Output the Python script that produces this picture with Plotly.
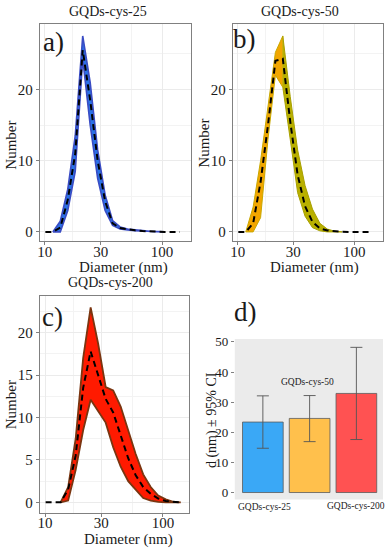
import plotly.graph_objects as go

# ---------------- data ----------------
diameter_nm = [10.1, 11.7, 13.54, 15.69, 18.17, 21.04, 24.36, 28.21, 32.67, 37.84,
               43.82, 50.75, 58.77, 68.06, 78.82, 91.28, 105.7, 122.4, 141.8]

a_mean  = [0, 0, 0.6, 4.5, 11, 25.5, 18.5, 10, 4.3, 1.2, 0.55, 0.35, 0.22, 0.12, 0.05, 0.02, 0, 0, 0]
a_upper = [0, 0, 1.5, 6, 13.5, 27.5, 21, 11.5, 5.2, 1.6, 0.7, 0.42, 0.27, 0.15, 0.07, 0.03, 0, 0, 0]
a_lower = [0, 0, 0, 3, 8.5, 24.3, 15, 7.5, 3, 0.9, 0.4, 0.28, 0.17, 0.09, 0.03, 0.01, 0, 0, 0]

b_mean  = [0, 0, 1.2, 7, 15, 24, 24.3, 15.5, 8, 3.6, 1.4, 0.5, 0.2, 0.08, 0.02, 0, 0, 0, 0]
b_upper = [0, 0, 3.5, 10, 18, 25.2, 27.5, 19, 11.5, 6.5, 3.2, 1.2, 0.4, 0.1, 0, 0, 0, 0, 0]
b_lower = [0, 0, 0, 2, 13, 22, 20.3, 13, 5.5, 2.2, 0.6, 0.15, 0, 0, 0, 0, 0, 0, 0]

c_mean  = [0, 0, 0, 1.5, 5.5, 13.5, 17.8, 15, 12.2, 10.6, 8, 5.2, 3.2, 1.8, 1.0, 0.45, 0.15, 0.03, 0]
c_upper = [0, 0, 0, 1.8, 7.5, 17, 23, 18.7, 13.6, 13.2, 11.3, 8.5, 5.7, 3.3, 1.8, 0.8, 0.35, 0.05, 0]
c_lower = [0, 0, 0, 0.2, 3.8, 8.5, 12.1, 10.8, 9.4, 6.5, 4.2, 2.5, 1.5, 0.5, 0.2, 0.05, 0, 0, 0]

samples   = ["GQDs-cys-25", "GQDs-cys-50", "GQDs-cys-200"]
d_mean    = [23.4, 24.6, 32.9]
d_ci_low  = [14.7, 16.9, 17.6]
d_ci_high = [32.1, 32.2, 48.2]

x_tickvals = [10, 30, 100]
x_minor = [17.32, 54.77]

W, H = 390, 550
FONT = "Liberation Serif"
TXT = "#1a1a1a"


def px_x(a, b):
    return [a / W, b / W]


def px_y(top, bottom):
    return [1 - bottom / H, 1 - top / H]


def band_polygon(x, lo, hi, start=0, stop=None):
    n = len(x)
    stop = n if stop is None else stop
    idx = [i for i in range(start, stop)
           if hi[i] > 0 or (i + 1 < n and hi[i + 1] > 0) or (i > 0 and hi[i - 1] > 0)]
    xs = [x[i] for i in idx] + [x[i] for i in reversed(idx)]
    ys = [hi[i] for i in idx] + [lo[i] for i in reversed(idx)]
    return xs, ys


fig = go.Figure()


def add_band(xa, ya, lo, hi, fillc, linec, lw, start=0, stop=None):
    bx, by = band_polygon(diameter_nm, lo, hi, start, stop)
    fig.add_trace(go.Scatter(x=bx, y=by, xaxis=xa, yaxis=ya, mode="lines",
                             fill="toself", fillcolor=fillc,
                             line=dict(color=linec, width=lw),
                             hoverinfo="skip", showlegend=False))


def add_mean(xa, ya, m):
    fig.add_trace(go.Scatter(x=diameter_nm, y=m, xaxis=xa, yaxis=ya, mode="lines",
                             line=dict(color="black", width=2, dash="6px,4px"),
                             showlegend=False))


# a) blue band
add_band("x", "y", a_lower, a_upper, "#2a72e6", "#3a4cc4", 1.6)
add_mean("x", "y", a_mean)

# b) orange on the rising side, olive on the falling side
peak_b = b_upper.index(max(b_upper))
add_band("x2", "y2", b_lower, b_upper, "#f2a600", "#c8a800", 1.0, 0, peak_b + 1)
add_band("x2", "y2", b_lower, b_upper, "#b9b000", "#a8a000", 1.0, peak_b, None)
add_mean("x2", "y2", b_mean)

# c) red band with brown edge
add_band("x3", "y3", c_lower, c_upper, "#ff1a00", "#7a3510", 1.8)
add_mean("x3", "y3", c_mean)

fig.add_trace(go.Bar(
    x=samples, y=d_mean, xaxis="x4", yaxis="y4", width=0.87,
    marker=dict(color=["#3aa8f6", "#ffc04c", "#ff5252"],
                line=dict(color="#5a5a5a", width=0.8)),
    error_y=dict(type="data", symmetric=False,
                 array=[h - m for h, m in zip(d_ci_high, d_mean)],
                 arrayminus=[m - l for m, l in zip(d_mean, d_ci_low)],
                 color="#555555", thickness=0.9, width=6),
    showlegend=False))

axis_common = dict(showline=True, mirror=True, linecolor="#808080", linewidth=1.2,
                   ticks="outside", ticklen=3, tickcolor="#808080",
                   tickfont=dict(family=FONT, size=15, color=TXT),
                   gridcolor="#ebebeb", gridwidth=1, zeroline=False)

def xlog(domain, rng, anchor, standoff=-6):
    return dict(axis_common, type="log", domain=domain, range=rng, anchor=anchor,
                tickvals=x_tickvals, ticktext=[str(v) for v in x_tickvals],
                ticklabelstandoff=standoff,
                minor=dict(tickvals=x_minor, showgrid=True, gridcolor="#f3f3f3",
                           gridwidth=0.6, ticklen=0))

def ylin(domain, rng, anchor, dtick):
    return dict(axis_common, domain=domain, range=rng, anchor=anchor, dtick=dtick,
                tick0=0,
                minor=dict(dtick=dtick / 2, tick0=dtick / 2, showgrid=True,
                           gridcolor="#f3f3f3", gridwidth=0.6, ticklen=0))

fig.update_layout(
    width=W, height=H, margin=dict(l=0, r=0, t=0, b=0),
    paper_bgcolor="white", plot_bgcolor="white",
    font=dict(family=FONT, color=TXT),
    xaxis=xlog(px_x(38, 190), [0.957, 2.247], "y"),
    yaxis=ylin(px_y(20, 239), [-1.25, 29.2], "x", 10),
    xaxis2=xlog(px_x(232, 383), [0.957, 2.248], "y2"),
    yaxis2=ylin(px_y(20, 239), [-1.25, 29.2], "x2", 10),
    xaxis3=xlog(px_x(38, 188), [0.955, 2.222], "y3", -7),
    yaxis3=ylin(px_y(295, 514), [-1.3, 24.3], "x3", 5),
    xaxis4=dict(domain=px_x(234, 383), range=[-0.6, 2.57], anchor="y4",
                showticklabels=False, showgrid=False, zeroline=False,
                showline=False, ticks=""),
    yaxis4=dict(domain=px_y(338, 500), range=[-2.3, 51], anchor="x4",
                dtick=10, tick0=0, showgrid=False, zeroline=False, showline=False,
                ticks="outside", ticklen=3, tickcolor="#808080",
                tickfont=dict(family=FONT, size=13, color=TXT)),
    bargap=0.1,
)

# gray background of panel d
fig.add_shape(type="rect", xref="x4 domain", yref="y4 domain", x0=0, x1=1, y0=0, y1=1,
              fillcolor="#ebebeb", line=dict(width=0), layer="below")

ann = []
def text(t, x, y, size, xanchor="center", yanchor="middle", angle=0):
    ann.append(dict(text=t, x=x / W, y=1 - y / H, xref="paper", yref="paper",
                    showarrow=False, xanchor=xanchor, yanchor=yanchor, textangle=angle,
                    font=dict(family=FONT, size=size, color=TXT)))

# titles
text("GQDs-cys-25", 107, 8, 14)
text("GQDs-cys-50", 300, 8, 14)
text("GQDs-cys-200", 109, 281, 14)
# panel letters
text("a)", 39, 38, 27, "left")
text("b)", 230, 35, 27, "left")
text("c)", 38, 316, 27, "left")
text("d)", 231, 311, 27, "left")
# axis titles
text("Diameter (nm)", 122, 266, 15)
text("Diameter (nm)", 314, 266, 15)
text("Diameter (nm)", 127, 540, 15)
text("Number", 9, 142, 15, angle=-90)
text("Number", 203, 140, 15, angle=-90)
text("Number", 9, 404, 15, angle=-90)
text("d (nm) ± 95% CI", 211, 420, 14, angle=-90)
# category labels in panel d
text(samples[0], 264, 508, 9.5)
text(samples[1], 307, 381, 9.5)
text(samples[2], 356, 507, 9.5)

fig.update_layout(annotations=ann)

# remove the default 8px page margin so the figure sits at the window's corner
fig.write_html("out.html", config={"displayModeBar": False},
               post_script="document.body.style.margin='0';document.body.style.overflow='hidden';")
